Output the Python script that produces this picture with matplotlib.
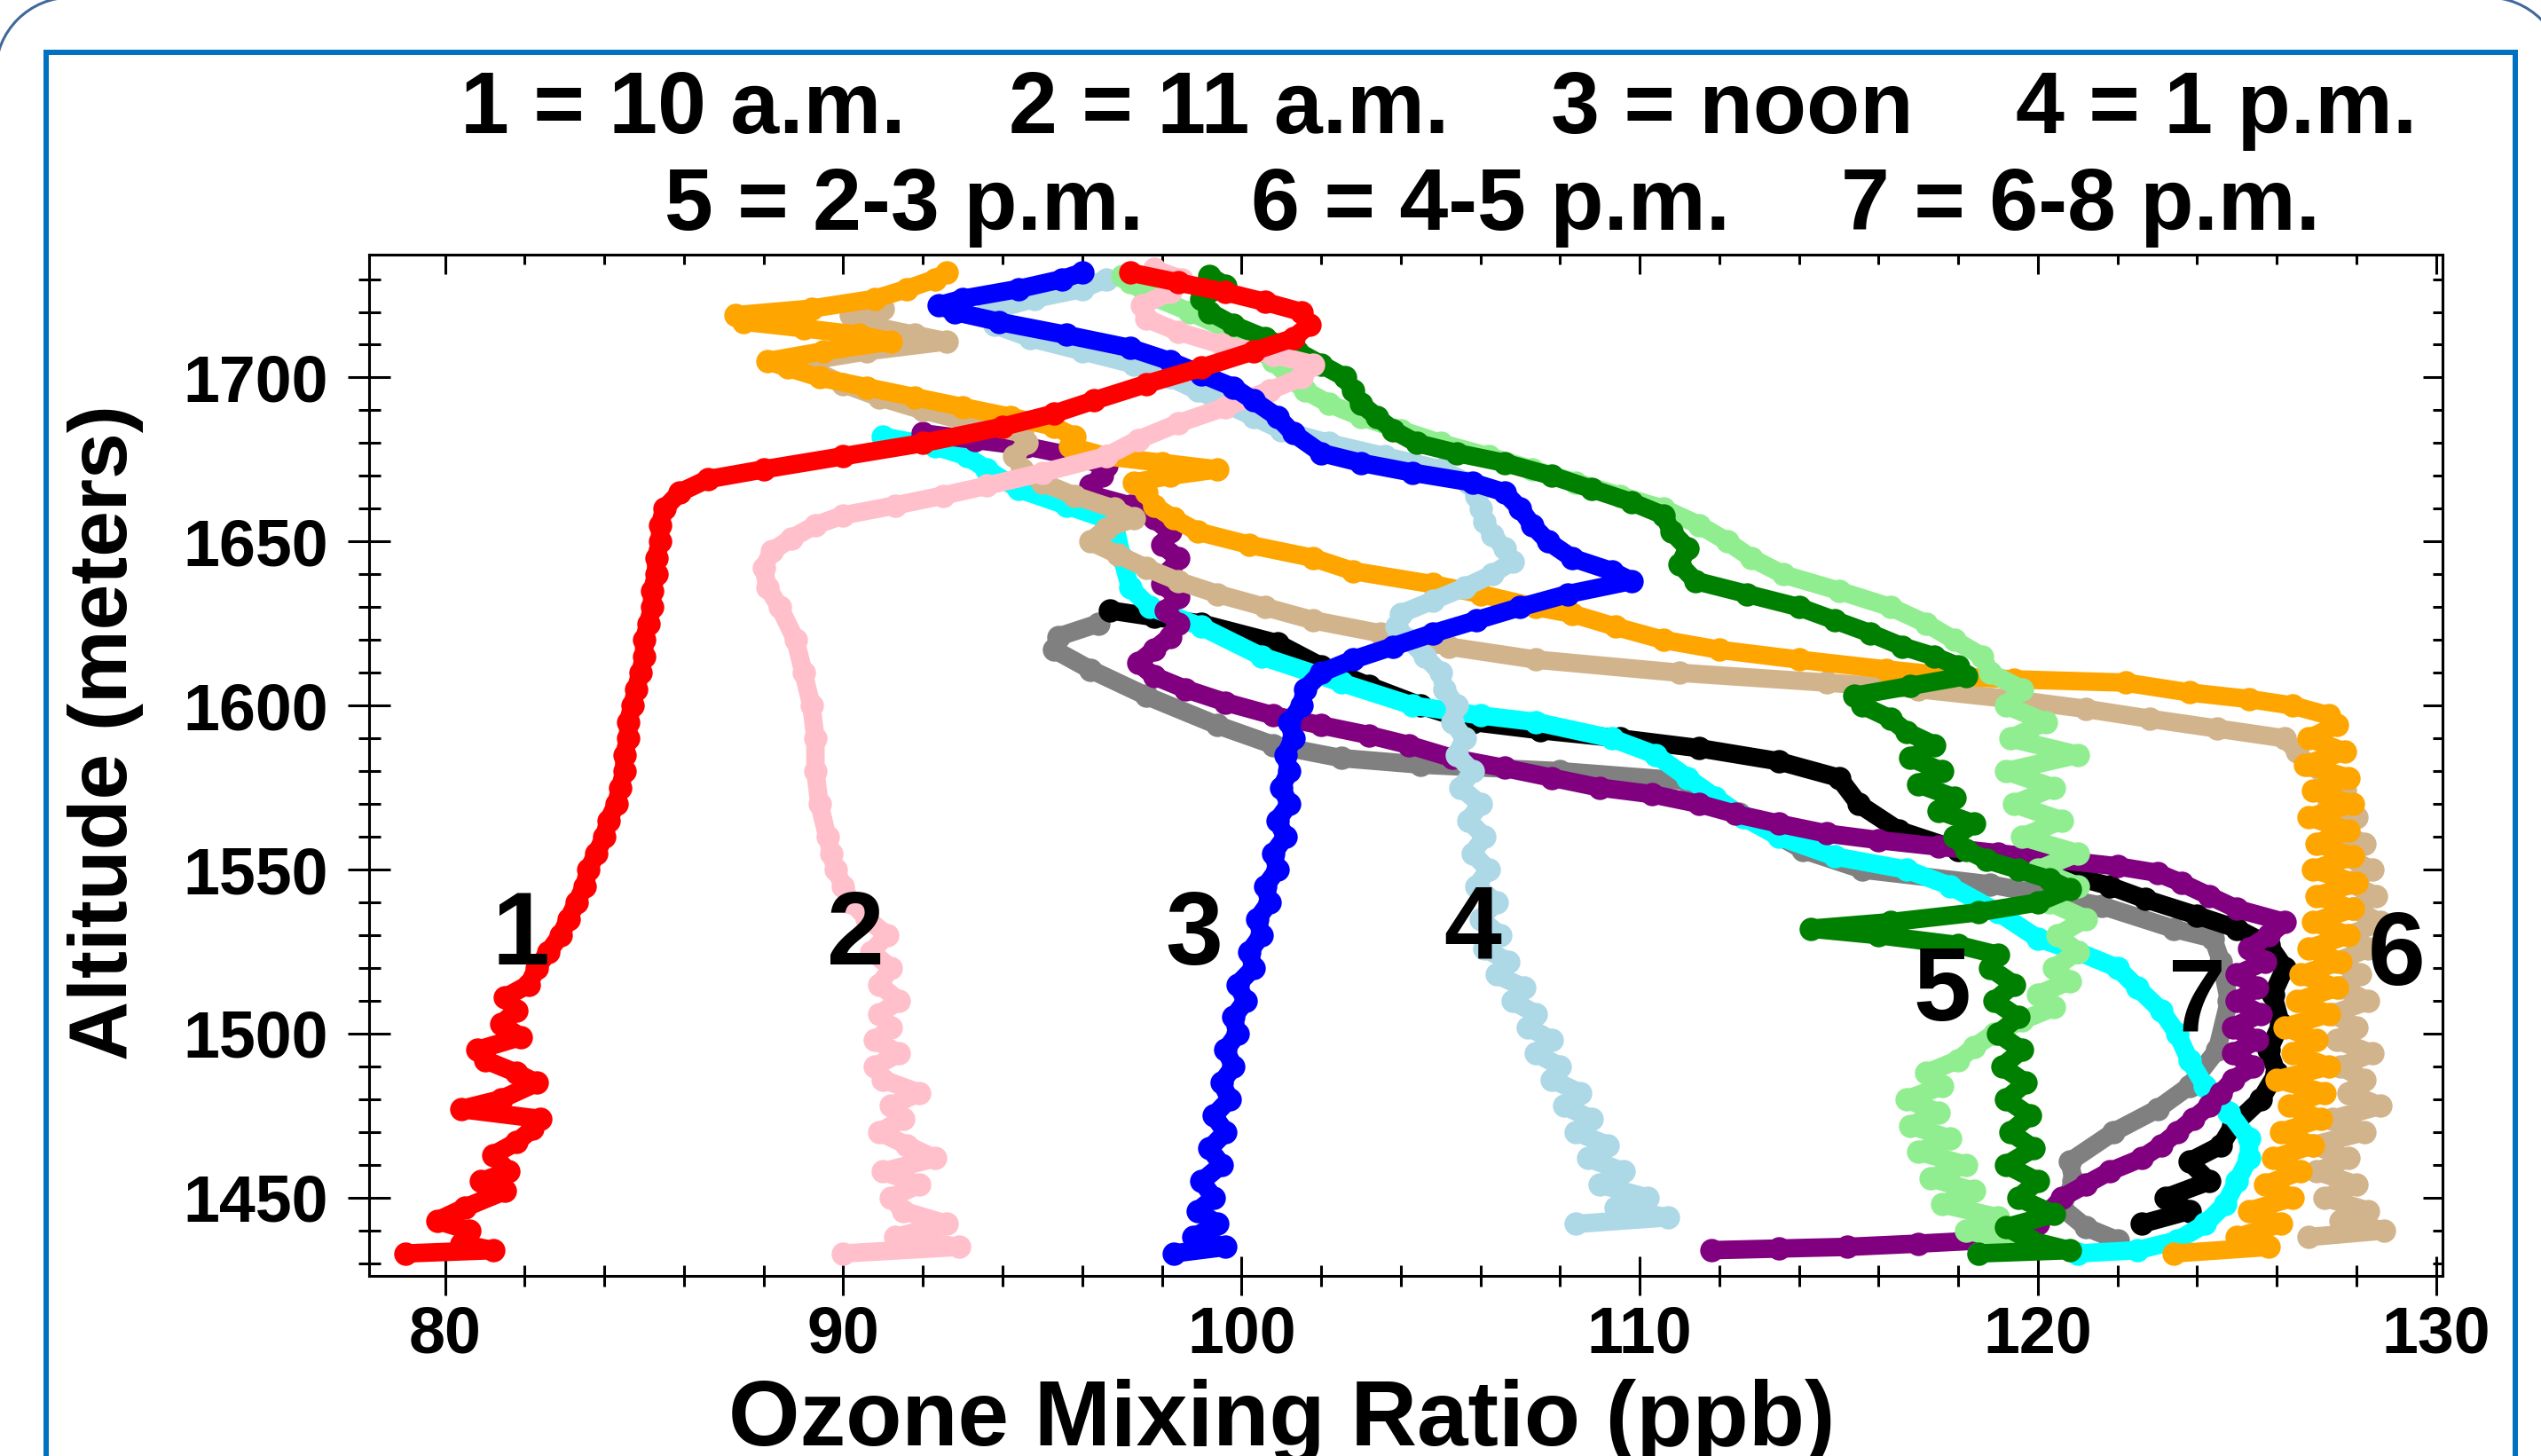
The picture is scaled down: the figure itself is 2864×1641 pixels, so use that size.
import numpy as np
import matplotlib.pyplot as plt
from matplotlib.patches import Rectangle, Arc
from matplotlib.ticker import MultipleLocator, NullFormatter

# ozone (ppb), altitude (m) pairs, bottom to top
red = [(79.0,1433),(81.2,1434),(80.4,1436),(80.6,1440),(79.8,1443),(80.5,1447),(81.5,1452),(80.9,1455),
       (81.6,1458),(81.2,1463),(81.8,1467),(82.2,1471),(82.4,1474),(80.4,1477),(81.4,1480),(82.3,1485),
       (81.8,1488),(81.0,1492),(80.8,1495),(81.9,1499),(81.4,1503),(81.8,1507),(81.5,1511),(82.1,1515),
       (82.3,1520),(82.6,1525),(82.9,1530),(83.1,1535),(83.3,1540),(83.5,1545),(83.6,1550),(83.8,1555),
       (84.0,1560),(84.1,1565),(84.3,1570),(84.4,1575),(84.5,1580),(84.5,1585),(84.6,1590),(84.6,1595),
       (84.7,1600),(84.8,1605),(84.9,1610),(85.0,1615),(85.0,1620),(85.1,1625),(85.2,1630),(85.2,1635),
       (85.3,1640),(85.3,1645),(85.4,1650),(85.4,1655),(85.5,1660),(85.9,1665),(86.6,1669),(88.0,1672),
       (90.0,1676),(92.0,1680),(94.0,1685),(95.3,1689),(96.3,1693),(97.6,1698),(99.0,1703),(100.3,1708),
       (101.3,1712),(101.7,1716),(101.5,1720),(100.6,1723),(99.6,1726),(98.4,1729),(97.2,1732)]

pink = [(90.0,1433),(92.9,1435),(91.3,1438),(92.6,1442),(91.5,1446),(91.2,1450),(91.9,1454),(91.0,1458),
        (92.3,1462),(91.6,1466),(90.9,1470),(91.5,1474),(91.2,1478),(91.9,1482),(91.0,1486),(90.8,1490),
        (91.4,1494),(90.8,1498),(91.2,1502),(90.9,1506),(91.4,1510),(90.9,1515),(91.2,1520),(90.7,1525),
        (91.1,1530),(90.6,1535),(90.2,1540),(90.0,1545),(89.8,1550),(89.7,1555),(89.6,1560),(89.4,1570),
        (89.3,1580),(89.3,1590),(89.2,1600),(89.0,1610),(88.8,1620),(88.4,1630),(88.1,1636),(88.0,1642),
        (88.2,1647),(88.7,1651),(89.3,1655),(90.0,1658),(91.3,1661),(92.5,1664),(93.6,1667),(95.0,1671),
        (96.6,1676),(97.4,1681),(98.4,1686),(99.6,1691),(100.7,1696),(101.5,1700),(101.8,1704),(100.8,1707),
        (99.5,1710),(98.4,1714),(97.6,1718),(97.5,1722),(98.2,1726),(98.5,1730),(97.8,1733)]

blue = [(98.3,1433),(99.6,1435),(98.8,1438),(99.4,1442),(98.9,1446),(99.3,1450),(99.0,1455),(99.5,1460),
        (99.2,1465),(99.6,1470),(99.3,1475),(99.7,1480),(99.5,1485),(99.8,1490),(99.6,1495),(99.9,1500),
        (99.8,1505),(100.1,1510),(99.9,1515),(100.3,1520),(100.2,1525),(100.5,1530),(100.4,1535),(100.7,1540),
        (100.6,1545),(100.9,1550),(100.8,1555),(101.1,1560),(100.9,1565),(101.2,1570),(101.0,1575),(101.2,1580),
        (101.1,1585),(101.3,1590),(101.2,1595),(101.5,1600),(101.6,1605),(102.0,1610),(102.8,1614),(103.8,1618),
        (104.8,1622),(105.9,1626),(107.0,1630),(108.2,1634),(109.8,1638),(109.3,1641),(108.3,1645),(107.7,1650),
        (107.3,1655),(107.0,1660),(106.6,1665),(105.8,1668),(104.3,1671),(103.0,1674),(102.0,1677),(101.3,1683),
        (100.9,1688),(100.3,1693),(99.8,1697),(99.0,1701),(98.2,1705),(97.2,1709),(95.6,1713),(93.9,1717),
        (92.8,1720),(92.4,1722),(93.0,1724),(94.4,1727),(95.5,1730),(96.0,1732)]

lightblue = [(108.4,1442),(110.7,1444),(109.4,1447),(110.2,1450),(109.0,1454),(109.6,1458),(108.7,1462),
             (109.2,1466),(108.4,1470),(108.8,1474),(108.1,1478),(108.5,1482),(107.8,1486),(108.0,1490),
             (107.4,1494),(107.8,1498),(107.2,1502),(107.4,1506),(106.8,1510),(107.1,1514),(106.4,1518),
             (106.7,1522),(106.1,1526),(106.5,1530),(106.0,1535),(106.4,1540),(105.9,1545),(106.2,1550),
             (105.8,1555),(106.1,1560),(105.7,1565),(106.0,1570),(105.5,1575),(105.8,1580),(105.4,1585),
             (105.6,1590),(105.3,1595),(105.4,1600),(105.1,1605),(105.0,1610),(104.6,1615),(104.2,1620),
             (103.9,1624),(104.0,1628),(104.8,1632),(105.6,1636),(106.3,1640),(106.8,1644),(106.6,1648),
             (106.3,1652),(106.1,1656),(106.0,1660),(105.9,1664),(105.7,1668),(105.0,1672),(103.6,1676),
             (102.2,1680),(101.0,1684),(100.3,1688),(99.6,1692),(98.9,1696),(98.2,1700),(97.3,1704),
             (96.0,1708),(94.7,1712),(93.8,1716),(93.6,1720),(94.8,1724),(96.0,1727),(96.6,1730)]

darkgreen = [(118.5,1433),(120.8,1434),(119.8,1437),(119.2,1441),(120.4,1445),(119.5,1450),(120.0,1455),
             (119.2,1460),(119.9,1465),(119.3,1470),(119.8,1475),(119.2,1480),(119.7,1485),(119.1,1490),
             (119.6,1495),(119.0,1500),(119.5,1505),(118.9,1510),(119.4,1515),(118.8,1520),(119.0,1524),
             (118.0,1527),(116.0,1530),(114.3,1532),(116.3,1534),(118.5,1537),(120.0,1540),(120.8,1544),
             (120.3,1547),(119.5,1550),(118.7,1553),(118.2,1556),(117.9,1560),(118.4,1564),(117.5,1568),
             (117.9,1572),(117.0,1576),(117.6,1580),(116.8,1584),(117.4,1588),(116.7,1592),(116.3,1596),
             (115.6,1600),(115.4,1603),(116.8,1606),(118.2,1609),(118.0,1612),(117.4,1615),(116.6,1618),
             (115.8,1622),(114.9,1626),(114.0,1630),(112.7,1634),(111.4,1638),(111.0,1643),(111.2,1648),
             (110.8,1653),(110.6,1658),(109.8,1662),(108.8,1666),(107.8,1670),(106.6,1674),(105.4,1677),
             (104.4,1680),(103.8,1684),(103.4,1688),(103.0,1692),(102.8,1696),(102.6,1700),(102.0,1704),
             (101.4,1708),(100.6,1712),(99.8,1716),(99.2,1720),(99.0,1724),(99.6,1728),(99.2,1731)]

lightgreen = [(118.5,1433),(119.6,1436),(118.2,1440),(119.0,1444),(117.6,1448),(118.4,1452),(117.3,1456),
              (118.2,1460),(117.0,1464),(117.8,1468),(116.8,1472),(117.5,1476),(116.7,1480),(117.6,1484),
              (117.2,1488),(118.0,1492),(118.4,1496),(118.9,1500),(119.6,1504),(120.4,1508),(120.0,1512),
              (120.8,1516),(120.4,1520),(121.0,1525),(120.5,1530),(121.2,1535),(120.3,1540),(121.0,1545),
              (120.0,1550),(121.0,1555),(119.6,1560),(120.6,1565),(119.4,1570),(120.4,1575),(119.2,1580),
              (121.0,1585),(119.3,1590),(120.2,1595),(119.2,1600),(119.6,1605),(118.8,1610),(118.6,1615),
              (117.9,1620),(117.2,1625),(116.3,1630),(115.0,1635),(113.6,1640),(112.8,1645),(112.2,1650),
              (111.5,1655),(110.6,1660),(109.5,1664),(108.4,1668),(107.3,1672),(106.2,1676),(105.0,1680),
              (104.0,1684),(103.0,1688),(102.2,1692),(101.6,1696),(101.2,1700),(100.8,1705),(100.3,1710),
              (99.6,1715),(98.7,1720),(97.7,1725),(97.2,1729),(97.0,1731)]

orange = [(123.4,1433),(125.8,1435),(125.0,1438),(126.1,1442),(125.3,1446),(126.4,1450),(125.7,1454),
          (126.6,1458),(125.9,1462),(126.9,1466),(126.1,1470),(127.1,1474),(126.3,1478),(127.2,1482),
          (126.0,1486),(127.3,1490),(126.4,1494),(127.0,1498),(126.2,1502),(127.3,1506),(126.5,1510),
          (127.5,1514),(126.6,1518),(127.6,1522),(126.8,1526),(127.8,1530),(126.9,1534),(127.9,1538),
          (127.0,1542),(128.0,1546),(126.9,1550),(127.9,1554),(127.0,1558),(127.8,1562),(126.8,1566),
          (127.9,1570),(126.9,1574),(127.8,1578),(126.7,1582),(127.7,1586),(126.8,1590),(127.5,1594),
          (127.3,1597),(126.4,1600),(125.3,1602),(123.8,1604),(122.2,1607),(119.4,1608),(117.8,1609),
          (116.2,1611),(114.0,1614),(112.0,1617),(110.6,1620),(109.4,1624),(108.3,1628),(107.4,1630),
          (106.0,1634),(104.8,1637),(102.8,1641),(101.8,1645),(100.2,1649),(98.9,1653),(98.3,1657),
          (97.8,1661),(97.6,1665),(97.3,1668),(98.2,1670),(99.4,1672),(98.0,1674),(96.6,1676),(95.7,1679),
          (95.8,1682),(95.3,1685),(94.2,1688),(93.0,1691),(91.8,1694),(90.6,1697),(89.4,1700),(88.6,1703),
          (88.1,1705),(89.5,1708),(91.2,1711),(90.4,1713),(89.0,1715),(87.5,1717),(87.3,1719),(89.2,1721),
          (90.8,1724),(91.6,1727),(92.3,1730),(92.6,1732)]

tan = [(126.8,1438),(128.7,1440),(127.6,1443),(128.3,1446),(127.2,1450),(128.0,1454),(127.0,1458),
       (127.8,1462),(126.9,1466),(128.2,1470),(127.4,1474),(128.6,1478),(127.8,1482),(128.2,1486),
       (127.6,1490),(128.4,1494),(127.5,1498),(128.0,1502),(127.4,1506),(128.3,1510),(127.6,1514),
       (128.1,1518),(127.5,1522),(128.3,1526),(127.8,1530),(128.6,1534),(127.9,1538),(128.5,1542),
       (127.8,1546),(128.4,1550),(127.7,1554),(128.2,1558),(127.5,1562),(128.0,1566),(127.3,1570),
       (127.7,1574),(127.3,1578),(126.8,1582),(126.5,1586),(126.2,1590),(124.5,1593),(122.8,1596),
       (121.2,1599),(119.3,1602),(117.0,1605),(114.7,1607),(111.0,1610),(107.4,1614),(105.2,1618),
       (103.5,1622),(101.8,1626),(100.6,1630),(99.4,1634),(98.4,1638),(97.6,1642),(96.9,1646),
       (96.2,1650),(96.6,1654),(97.3,1657),(96.8,1660),(95.8,1664),(95.0,1668),(94.5,1672),(94.3,1676),
       (94.6,1680),(94.5,1683),(93.3,1686),(92.0,1690),(90.9,1694),(90.0,1698),(89.3,1702),(89.1,1705),
       (90.6,1708),(92.6,1711),(91.8,1713),(90.6,1716),(90.2,1719),(91.0,1721)]

purple = [(111.8,1434),(113.5,1434.5),(115.2,1435),(117.0,1436),(118.6,1437),(119.5,1439),(120.0,1442),
          (120.3,1446),(120.6,1450),(121.2,1454),(121.8,1458),(122.6,1462),(123.1,1466),(123.5,1470),
          (123.9,1474),(124.3,1478),(124.6,1482),(124.9,1486),(125.4,1490),(124.9,1494),(125.5,1498),
          (124.9,1502),(125.6,1506),(125.0,1510),(125.5,1514),(125.0,1518),(125.7,1522),(125.3,1526),
          (125.8,1530),(126.2,1534),(125.0,1538),(124.3,1542),(123.6,1546),(123.0,1549),(122.0,1551),
          (120.5,1553),(119.0,1555),(117.5,1557),(116.0,1559),(114.7,1561),(113.5,1564),(112.4,1567),
          (111.5,1570),(110.3,1573),(109.0,1575),(107.8,1578),(106.6,1581),(105.3,1584),(104.2,1588),
          (103.2,1591),(102.0,1594),(100.8,1597),(99.6,1601),(98.6,1605),(97.8,1609),(97.4,1613),
          (97.8,1617),(98.2,1621),(98.4,1625),(98.1,1629),(98.4,1633),(98.0,1637),(98.2,1641),(98.4,1645),
          (98.0,1649),(98.2,1653),(97.8,1657),(97.2,1661),(96.3,1664),(96.2,1667),(96.5,1670),(96.6,1673),
          (95.8,1676),(94.6,1679),(93.3,1681),(92.0,1683)]

cyan = [(121.0,1433),(122.5,1434),(123.5,1437),(124.2,1442),(124.7,1448),(125.0,1455),(125.3,1462),
        (125.3,1468),(124.8,1476),(124.2,1484),(123.8,1492),(123.5,1500),(123.1,1507),(122.5,1514),
        (122.0,1520),(121.0,1525),(120.0,1529),(119.0,1537),(117.8,1545),(116.7,1550),(114.9,1554),
        (113.5,1560),(112.6,1566),(111.9,1572),(111.2,1578),(110.4,1585),(109.3,1590),(107.4,1595),
        (106.0,1597),(104.3,1600),(102.5,1607),(100.5,1615),(99.0,1624),(97.7,1630),(97.2,1636),
        (97.0,1645),(96.8,1656),(95.6,1661),(94.4,1666),(93.6,1672),(93.1,1676),(92.3,1679),(91.0,1682)]

black = [(122.6,1442),(123.8,1446),(123.2,1450),(124.3,1455),(123.8,1461),(124.6,1466),(124.9,1472),
         (125.6,1480),(126.0,1488),(125.8,1495),(126.1,1503),(125.9,1512),(126.2,1520),(125.8,1527),
         (125.0,1532),(124.0,1536),(122.7,1541),(121.8,1545),(120.0,1551),(118.0,1556),(116.5,1562),
         (115.5,1570),(115.0,1578),(113.5,1583),(111.5,1587),(109.5,1590),(107.5,1592.5),(105.8,1595),
         (104.5,1600),(103.2,1606),(102.0,1612),(100.9,1619),(99.0,1625),(97.8,1627),(96.7,1629)]

gray = [(122.0,1437),(121.2,1441),(120.6,1447),(120.9,1455),(120.8,1461),(121.9,1470),(123.0,1477),
        (123.8,1484),(124.5,1495),(124.8,1510),(124.6,1522),(124.4,1529),(123.4,1532),(121.6,1539),
        (118.8,1545.5),(115.6,1550),(114.1,1556),(112.5,1567),(111.2,1577),(108.0,1580),(104.5,1582),
        (102.5,1584),(100.8,1588),(99.4,1594),(97.6,1603),(96.2,1611),(95.3,1617),(95.4,1621),(96.4,1625)]

# curve numbers: text, ozone, altitude of baseline
curve_labels = [('1', 81.9, 1521), ('2', 90.3, 1521), ('3', 98.8, 1521), ('4', 105.8, 1523),
                ('5', 117.6, 1504), ('6', 129.0, 1515), ('7', 124.0, 1501)]

key_row1 = ['1 = 10 a.m.', '2 = 11 a.m.', '3 = noon', '4 = 1 p.m.']
key_row2 = ['5 = 2-3 p.m.', '6 = 4-5 p.m.', '7 = 6-8 p.m.']

x_ticks = [80, 90, 100, 110, 120, 130]
y_ticks = [1450, 1500, 1550, 1600, 1650, 1700]


def main():
    plt.rcParams['font.family'] = ['Liberation Sans', 'DejaVu Sans']
    plt.rcParams['font.weight'] = 'bold'

    W, H = 2864, 1641
    fig = plt.figure(figsize=(W / 100, H / 100), dpi=100)

    # background layer in pixel coordinates
    deco = fig.add_axes([0, 0, 1, 1])
    deco.set_xlim(0, W)
    deco.set_ylim(0, H)
    deco.axis('off')
    # corners of the outer slide frame (its straight edges lie outside the picture)
    deco.add_patch(Arc((80, H - 82), 170, 170, theta1=90, theta2=180, color='#41689A', lw=2.2))
    deco.add_patch(Arc((W - 60, H - 82), 170, 170, theta1=0, theta2=90, color='#41689A', lw=2.2))
    deco.add_patch(Rectangle((52, -100), 2783, H - 59 + 100, fill=False, ec='#0070C0', lw=4.3))

    for txt, xc in zip(key_row1, [770, 1385, 1952, 2498]):
        deco.text(xc, H - 150, txt, fontsize=71, ha='center', va='baseline')
    for txt, xc in zip(key_row2, [1019, 1680, 2345]):
        deco.text(xc, H - 259, txt, fontsize=71, ha='center', va='baseline')
    deco.text(1445, H - 1629, 'Ozone Mixing Ratio (ppb)', fontsize=74.5, ha='center', va='baseline')
    deco.text(119, H - 826, 'Altitude (meters)', fontsize=67, ha='center', va='center', rotation=90)

    left, right, top, bottom = 416.4, 2752.5, 286.8, 1437.5
    ax = fig.add_axes([left / W, 1 - bottom / H, (right - left) / W, (bottom - top) / H])
    ax.patch.set_alpha(0)

    profiles = [(gray, 'gray'), (black, 'black'), (cyan, 'cyan'), (purple, 'purple'),
                (tan, 'tan'), (orange, 'orange'), (lightblue, 'lightblue'),
                (lightgreen, 'lightgreen'), (darkgreen, 'green'), (pink, 'pink'),
                (blue, 'blue'), (red, 'red')]
    for pts, col in profiles:
        p = np.array(pts)
        ax.plot(p[:, 0], p[:, 1], color=col, lw=15, marker='o', ms=19, mew=0,
                solid_joinstyle='round', solid_capstyle='round')

    for txt, xv, yv in curve_labels:
        ax.text(xv, yv, txt, fontsize=84, ha='center', va='baseline', zorder=10)

    ax.set_xlim(78.1, 130.15)
    ax.set_ylim(1426.3, 1737.5)
    ax.set_xticks(x_ticks)
    ax.set_yticks(y_ticks)
    ax.xaxis.set_minor_locator(MultipleLocator(2))
    ax.yaxis.set_minor_locator(MultipleLocator(10))
    for s in ax.spines.values():
        s.set_linewidth(2.2)

    ax.tick_params(which='both', direction='inout', width=2.2, labelsize=53)
    ax.tick_params(axis='x', which='major', length=31, pad=8)
    ax.tick_params(axis='x', which='minor', length=17)
    ax.tick_params(axis='y', which='major', length=35, pad=16)
    ax.tick_params(axis='y', which='minor', length=18)

    tx = ax.secondary_xaxis('top')
    tx.set_xticks(x_ticks)
    tx.xaxis.set_minor_locator(MultipleLocator(2))
    tx.xaxis.set_major_formatter(NullFormatter())
    tx.tick_params(which='both', direction='in', width=2.2)
    tx.tick_params(which='major', length=16)
    tx.tick_params(which='minor', length=8)
    tx.spines['top'].set_linewidth(2.2)

    ry = ax.secondary_yaxis('right')
    ry.set_yticks(y_ticks)
    ry.yaxis.set_minor_locator(MultipleLocator(10))
    ry.yaxis.set_major_formatter(NullFormatter())
    ry.tick_params(which='both', direction='in', width=2.2)
    ry.tick_params(which='major', length=16)
    ry.tick_params(which='minor', length=8)
    ry.spines['right'].set_linewidth(2.2)

    fig.savefig('out.png', dpi=100)


if __name__ == "__main__":
    main()
